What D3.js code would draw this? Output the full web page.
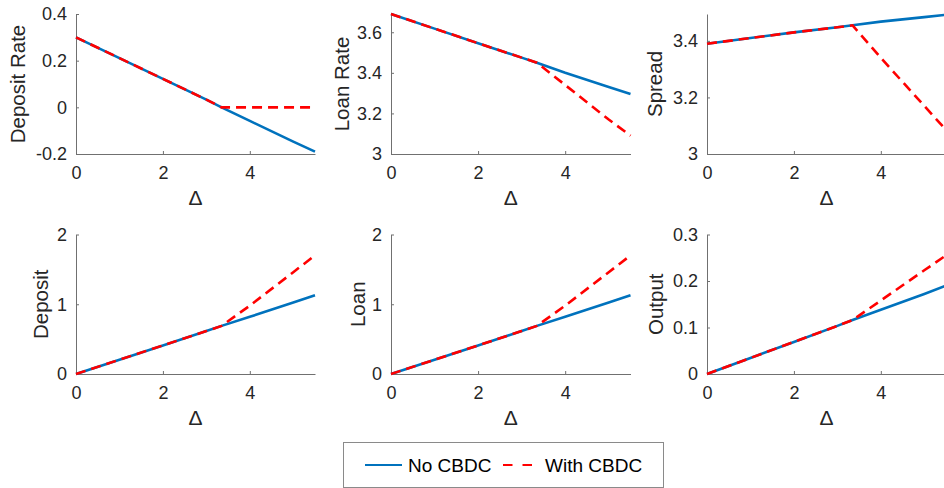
<!DOCTYPE html>
<html><head><meta charset="utf-8">
<script src="https://cdn.jsdelivr.net/npm/d3@7"></script>
<style>
body{margin:0;background:#fff}
svg{display:block}
text{font-family:"Liberation Sans",Arial,Helvetica,sans-serif}
</style>
</head><body>
<svg id="c" width="944" height="488"></svg>
<script>
// ---- data ----
const xs = [0, 1, 2, 3, 3.35, 4, 5, 5.5];

const depositRateNo   = [0.30, 0.211, 0.122, 0.033, 0.0, -0.058, -0.147, -0.19];
const depositRateWith = [0.30, 0.211, 0.122, 0.033, 0.0, 0.0, 0.0, 0.0];

const loanRateNo   = [3.69, 3.618, 3.546, 3.475, 3.45, 3.40, 3.33, 3.296];
const loanRateWith = [3.69, 3.618, 3.546, 3.475, 3.45, 3.34, 3.17, 3.09];

const spreadNo   = [3.39, 3.41, 3.43, 3.448, 3.455, 3.468, 3.484, 3.492];
const spreadWith = [3.39, 3.41, 3.43, 3.448, 3.455, 3.34, 3.17, 3.085];

const depositNo   = [0, 0.205, 0.41, 0.615, 0.69, 0.82, 1.025, 1.13];
const depositWith = [0, 0.205, 0.41, 0.615, 0.69, 0.98, 1.46, 1.70];

const loanNo   = [0, 0.205, 0.41, 0.615, 0.69, 0.82, 1.025, 1.13];
const loanWith = [0, 0.205, 0.41, 0.615, 0.69, 0.98, 1.46, 1.70];

const outputNo   = [0, 0.0345, 0.069, 0.1035, 0.116, 0.138, 0.172, 0.19];
const outputWith = [0, 0.0345, 0.069, 0.1035, 0.116, 0.158, 0.223, 0.255];

const xTicks = [0, 2, 4];
const xTickLabels = ["0", "2", "4"];
const xLabel = "\u0394";

const yTicksDepositRate = [-0.2, 0, 0.2, 0.4];
const yLabelsDepositRate = ["-0.2", "0", "0.2", "0.4"];
const yTicksLoanRate = [3, 3.2, 3.4, 3.6];
const yLabelsLoanRate = ["3", "3.2", "3.4", "3.6"];
const yTicksSpread = [3, 3.2, 3.4];
const yLabelsSpread = ["3", "3.2", "3.4"];
const yTicksQty = [0, 1, 2];
const yLabelsQty = ["0", "1", "2"];
const yTicksOutput = [0, 0.1, 0.2, 0.3];
const yLabelsOutput = ["0", "0.1", "0.2", "0.3"];

const panelTitles = ["Deposit Rate", "Loan Rate", "Spread", "Deposit", "Loan", "Output"];
const seriesNames = ["No CBDC", "With CBDC"];

// ---- layout ----
const svg = d3.select("#c");
const BLUE = "#0072BD", RED = "#FF0000";
const cols = [[76, 315], [391, 630.5], [707, 946]];
const rows = [[14, 154], [234.5, 374]];

const panels = [
  {c:0, r:0, no:depositRateNo, wi:depositRateWith, dom:[-0.2, 0.4], yt:yTicksDepositRate, yl:yLabelsDepositRate, title:panelTitles[0], lo:51},
  {c:1, r:0, no:loanRateNo, wi:loanRateWith, dom:[3, 3.69], yt:yTicksLoanRate, yl:yLabelsLoanRate, title:panelTitles[1], lo:42},
  {c:2, r:0, no:spreadNo, wi:spreadWith, dom:[3, 3.495], yt:yTicksSpread, yl:yLabelsSpread, title:panelTitles[2], lo:45},
  {c:0, r:1, no:depositNo, wi:depositWith, dom:[0, 2], yt:yTicksQty, yl:yLabelsQty, title:panelTitles[3], lo:28},
  {c:1, r:1, no:loanNo, wi:loanWith, dom:[0, 2], yt:yTicksQty, yl:yLabelsQty, title:panelTitles[4], lo:26},
  {c:2, r:1, no:outputNo, wi:outputWith, dom:[0, 0.3], yt:yTicksOutput, yl:yLabelsOutput, title:panelTitles[5], lo:44},
];

panels.forEach(p => {
  const [x0, x1] = cols[p.c];
  const [yt0, yb] = rows[p.r];
  const x = d3.scaleLinear().domain([0, 5.5]).range([x0, x1]);
  const y = d3.scaleLinear().domain(p.dom).range([yb, yt0]);
  const g = svg.append("g");

  const xa = g.append("g").attr("transform", `translate(0,${yb})`)
    .call(d3.axisBottom(x).tickValues(xTicks).tickFormat((d,i)=>xTickLabels[i])
      .tickSizeInner(-3).tickSizeOuter(0).tickPadding(12.5));
  const ya = g.append("g").attr("transform", `translate(${x0},0)`)
    .call(d3.axisLeft(y).tickValues(p.yt).tickFormat((d,i)=>p.yl[i])
      .tickSizeInner(-3).tickSizeOuter(0).tickPadding(9));
  [xa, ya].forEach(a => {
    a.select(".domain").attr("stroke", "#707070").attr("stroke-width", 1);
    a.selectAll(".tick line").attr("stroke", "#707070");
    a.selectAll(".tick text").attr("fill", "#262626").style("font-size", "18px")
      .style("font-family", '"Liberation Sans",Arial,sans-serif');
  });

  const line = d3.line().x((d,i)=>x(xs[i])).y(d=>y(d));
  g.append("path").datum(p.no).attr("d", line)
    .attr("fill", "none").attr("stroke", BLUE).attr("stroke-width", 2.6);
  g.append("path").datum(p.wi).attr("d", line)
    .attr("fill", "none").attr("stroke", RED).attr("stroke-width", 2.6)
    .attr("stroke-dasharray", "10,6");

  g.append("text").attr("x", (x0 + Math.min(x1, 946)) / 2).attr("y", yb + 51)
    .attr("text-anchor", "middle").attr("fill", "#262626").style("font-size", "21px")
    .text(xLabel);
  g.append("text")
    .attr("transform", `translate(${x0 - p.lo},${(yt0 + yb) / 2}) rotate(-90)`)
    .attr("text-anchor", "middle").attr("fill", "#262626").style("font-size", "20.5px")
    .text(p.title);
});

// ---- legend ----
const lg = svg.append("g");
lg.append("rect").attr("x", 343.5).attr("y", 442.5).attr("width", 320).attr("height", 45)
  .attr("fill", "#fff").attr("stroke", "#8a8a8a").attr("stroke-width", 1);
lg.append("line").attr("x1", 365).attr("x2", 402).attr("y1", 465).attr("y2", 465)
  .attr("stroke", BLUE).attr("stroke-width", 2);
lg.append("text").attr("x", 408).attr("y", 472).attr("fill", "#000").style("font-size", "19px").text(seriesNames[0]);
lg.append("line").attr("x1", 503).attr("x2", 532).attr("y1", 465).attr("y2", 465)
  .attr("stroke", RED).attr("stroke-width", 2).attr("stroke-dasharray", "9.5,10");
lg.append("text").attr("x", 545).attr("y", 472).attr("fill", "#000").style("font-size", "19px").text(seriesNames[1]);
</script>
</body></html>
